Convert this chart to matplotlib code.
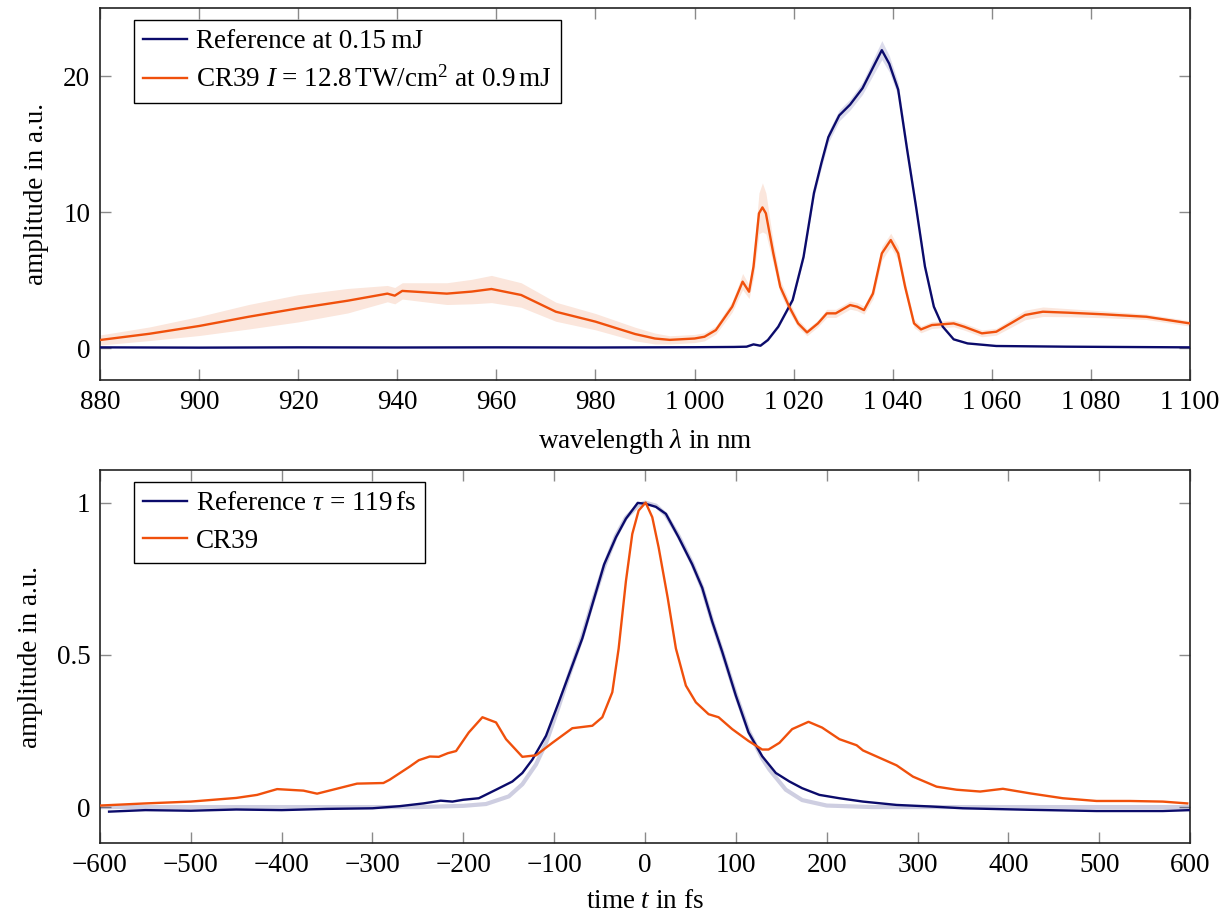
import matplotlib
matplotlib.use("Agg")
import matplotlib.pyplot as plt
from matplotlib.ticker import FuncFormatter, FixedLocator
import numpy as np

# ---------------- data: spectrum (top) ----------------
wl_ref = [880, 900, 920, 940, 960, 980, 1000, 1008, 1010.5, 1011.9, 1013.3, 1014.8,
          1016.9, 1019.8, 1022, 1024.1, 1025.6, 1027, 1029.2, 1031.4, 1033.9, 1036.4,
          1037.8, 1039.3, 1041.1, 1042.9, 1044.7, 1046.5, 1048.3, 1050.1, 1052.3,
          1055.1, 1060.9, 1075, 1090, 1100]
amp_ref = [0.05, 0.03, 0.05, 0.04, 0.05, 0.04, 0.06, 0.08, 0.1, 0.27, 0.17, 0.59,
           1.57, 3.53, 6.7, 11.4, 13.6, 15.5, 17.1, 17.9, 19.1, 20.9,
           21.9, 20.9, 19.0, 14.6, 10.4, 6.0, 3.04, 1.57, 0.64,
           0.34, 0.15, 0.1, 0.07, 0.05]
std_ref = [0.02, 0.02, 0.02, 0.02, 0.02, 0.02, 0.02, 0.02, 0.03, 0.05, 0.05, 0.08,
           0.1, 0.15, 0.2, 0.3, 0.35, 0.4, 0.4, 0.4, 0.45, 0.6,
           0.7, 0.6, 0.5, 0.4, 0.3, 0.2, 0.15, 0.1, 0.05,
           0.03, 0.02, 0.02, 0.02, 0.02]

wl_cr = [880, 890, 900, 910, 920, 930, 938, 939.5, 941, 950, 955, 959, 965, 972, 980,
         988, 992, 995, 1000, 1002, 1004.3, 1007.6, 1009, 1009.7, 1011, 1011.9, 1013,
         1013.7, 1014.4, 1015.9, 1017.3, 1019.1, 1020.9, 1022.7, 1024.9, 1026.7, 1028.5,
         1031.4, 1032.8, 1034.2, 1036, 1037.8, 1039.6, 1041.1, 1042.5, 1044.3, 1045.7,
         1047.9, 1052.3, 1054.4, 1058, 1060.9, 1063.8, 1066.7, 1070.3, 1075.3, 1082.5,
         1091.2, 1100]
amp_cr = [0.59, 1.05, 1.62, 2.3, 2.92, 3.48, 4.0, 3.85, 4.2, 4.0, 4.15, 4.34, 3.9, 2.67, 1.94,
          1.03, 0.7, 0.6, 0.7, 0.83, 1.32, 3.04, 4.26, 4.88, 4.14, 5.98, 9.9,
          10.34, 9.9, 6.96, 4.5, 3.04, 1.81, 1.15, 1.81, 2.55, 2.55,
          3.16, 3.04, 2.79, 4.0, 6.96, 7.94, 6.96, 4.5, 1.81, 1.37,
          1.69, 1.81, 1.57, 1.08, 1.2, 1.81, 2.43, 2.67, 2.6, 2.48,
          2.3, 1.81]
std_cr = [0.37, 0.5, 0.7, 0.9, 1.0, 0.9, 0.6, 0.6, 0.6, 0.8, 0.9, 1.0, 0.9, 0.7, 0.6,
          0.5, 0.4, 0.3, 0.3, 0.3, 0.3, 0.4, 0.5, 0.6, 0.5, 0.8, 1.5,
          1.8, 1.5, 0.8, 0.5, 0.4, 0.3, 0.25, 0.25, 0.3, 0.3,
          0.3, 0.3, 0.3, 0.4, 0.5, 0.5, 0.5, 0.4, 0.3, 0.25,
          0.25, 0.25, 0.25, 0.25, 0.25, 0.3, 0.35, 0.35, 0.3, 0.25,
          0.2, 0.2]

# ---------------- data: temporal (bottom) ----------------
t_ref = [-590, -550, -500, -450, -400, -350, -300, -270, -244, -225, -212, -200, -183,
         -164, -146, -135, -124, -109, -95, -84, -69, -58, -45, -32, -21, -8, 0.7, 12,
         23, 37, 52, 63, 74, 85, 100, 114, 129, 144, 159, 173, 192, 214, 240, 277, 314,
         350, 424, 497, 570, 600]
int_ref = [-0.015, -0.01, -0.012, -0.008, -0.01, -0.006, -0.004, 0.003, 0.012, 0.021, 0.018,
           0.024, 0.029, 0.057, 0.084, 0.112, 0.156, 0.234, 0.344, 0.433, 0.554, 0.665,
           0.797, 0.886, 0.947, 0.999, 0.996, 0.986, 0.963, 0.886, 0.797, 0.720, 0.609,
           0.510, 0.366, 0.245, 0.167, 0.112, 0.084, 0.062, 0.040, 0.029, 0.018, 0.007,
           0.002, -0.004, -0.009, -0.013, -0.013, -0.01]

t_fit = [-600, -300, -250, -200, -175, -150, -135, -120, -109, -95, -84, -69, -58, -45,
         -32, -21, -8, 0, 12, 23, 37, 52, 63, 74, 85, 100, 114, 129, 137, 155, 173, 200,
         250, 600]
int_fit = [0, 0, 0.0, 0.004, 0.01, 0.035, 0.075, 0.14, 0.21, 0.33, 0.43, 0.56, 0.67, 0.79,
           0.89, 0.95, 0.99, 1.0, 0.99, 0.96, 0.89, 0.80, 0.72, 0.61, 0.51, 0.37, 0.25,
           0.16, 0.123, 0.057, 0.023, 0.005, 0.0, 0]

t_cr = [-600, -550, -500, -450, -427, -405, -376, -361, -317, -288, -281, -259, -249, -237,
        -227, -217, -208, -194, -179, -164, -153, -135, -120, -102, -80, -58, -47, -36,
        -29, -21, -14, -7, 0.7, 8, 15, 25, 34, 45, 56, 70, 81, 96, 114, 129, 136, 148,
        162, 180, 195, 214, 233, 240, 277, 295, 321, 343, 369, 394, 424, 460, 497, 534,
        570, 597]
int_cr = [0.005, 0.012, 0.018, 0.03, 0.04, 0.059, 0.054, 0.044, 0.077, 0.079, 0.09, 0.133,
          0.154, 0.166, 0.165, 0.177, 0.184, 0.245, 0.295, 0.278, 0.223, 0.165, 0.170,
          0.211, 0.259, 0.267, 0.295, 0.377, 0.521, 0.742, 0.897, 0.974, 1.0, 0.952,
          0.853, 0.687, 0.521, 0.399, 0.344, 0.305, 0.295, 0.256, 0.217, 0.189, 0.189,
          0.211, 0.256, 0.280, 0.261, 0.223, 0.203, 0.186, 0.137, 0.1, 0.067, 0.057,
          0.051, 0.06, 0.045, 0.029, 0.02, 0.02, 0.018, 0.012]

xticks_top = [880, 900, 920, 940, 960, 980, 1000, 1020, 1040, 1060, 1080, 1100]
yticks_top = [0, 10, 20]
xticks_bot = [-600, -500, -400, -300, -200, -100, 0, 100, 200, 300, 400, 500, 600]
yticks_bot = [0, 0.5, 1]

# ---------------- style ----------------
FS = 19.5
plt.rcParams['font.family'] = ['Liberation Serif', 'DejaVu Serif']
plt.rcParams['mathtext.fontset'] = 'custom'
plt.rcParams['mathtext.rm'] = 'Liberation Serif'
plt.rcParams['mathtext.it'] = 'Liberation Serif:italic'
plt.rcParams['font.size'] = FS
plt.rcParams['axes.unicode_minus'] = True

NAVY = '#0b0b6b'
ORANGE = '#f0500c'
ORANGE_BAND = '#fbe6dc'
NAVY_BAND = '#dcdcec'
TICKC = '#8a8a8a'

fig = plt.figure(figsize=(12.3, 9.16), dpi=100)
W, H = 1230, 916
ax1 = fig.add_axes([100 / W, 1 - 380 / H, 1090 / W, 372 / H])
ax2 = fig.add_axes([100 / W, 1 - 843 / H, 1090 / W, 373 / H])


def style(ax):
    for s in ax.spines.values():
        s.set_linewidth(1.2)
        s.set_color('#222222')
    ax.tick_params(direction='in', length=8, width=1.0, color=TICKC,
                   top=True, right=True, labelsize=FS, pad=7)


def legend(ax):
    leg = ax.legend(loc='upper left', bbox_to_anchor=(0.031, 0.968), borderaxespad=0,
                    fancybox=False, edgecolor='black', framealpha=1, fontsize=FS,
                    handlelength=1.6, handletextpad=0.35, borderpad=0.35,
                    labelspacing=0.45)
    leg.get_frame().set_linewidth(1.0)
    return leg


# top
a_ref = np.array(amp_ref); s_ref = np.array(std_ref)
a_cr = np.array(amp_cr); s_cr = np.array(std_cr)
ax1.fill_between(wl_cr, a_cr - s_cr, a_cr + s_cr, color=ORANGE_BAND, lw=0, zorder=1)
ax1.fill_between(wl_ref, a_ref - s_ref, a_ref + s_ref, color=NAVY_BAND, lw=0, zorder=1)
ax1.plot(wl_ref, amp_ref, color=NAVY, lw=1.7, label='Reference at 0.15\u2009mJ', zorder=3)
ax1.plot(wl_cr, amp_cr, color=ORANGE, lw=1.7,
         label=r'CR39 $I$ = 12.8$\,$TW/cm$^2$ at 0.9$\,$mJ', zorder=3)
ax1.set_xlim(880, 1100)
ax1.set_ylim(-2.35, 25)
ax1.xaxis.set_major_locator(FixedLocator(xticks_top))
ax1.yaxis.set_major_locator(FixedLocator(yticks_top))


def thou(v, pos):
    v = int(round(v))
    if v >= 1000:
        return f"{v // 1000}\u2009{v % 1000:03d}"
    return str(v)


ax1.xaxis.set_major_formatter(FuncFormatter(thou))
ax1.set_xlabel(r'wavelength $\lambda$ in nm', fontsize=FS, labelpad=9)
ax1.set_ylabel('amplitude in a.u.', fontsize=FS, labelpad=10)
style(ax1)
legend(ax1)

# bottom
ax2.plot(t_fit, int_fit, color=NAVY, alpha=0.2, lw=3, zorder=2)
ax2.plot(t_ref, int_ref, color=NAVY, lw=1.7, label=r'Reference $\tau$ = 119$\,$fs', zorder=3)
ax2.plot(t_cr, int_cr, color=ORANGE, lw=1.7, label='CR39', zorder=3)
ax2.set_xlim(-600, 600)
ax2.set_ylim(-0.118, 1.107)
ax2.xaxis.set_major_locator(FixedLocator(xticks_bot))
ax2.yaxis.set_major_locator(FixedLocator(yticks_bot))
ax2.yaxis.set_major_formatter(FuncFormatter(lambda v, p: f"{v:g}"))
ax2.set_xlabel(r'time $t$ in fs', fontsize=FS, labelpad=8)
ax2.set_ylabel('amplitude in a.u.', fontsize=FS, labelpad=10)
style(ax2)
legend(ax2)

fig.savefig('out.png', dpi=100)
